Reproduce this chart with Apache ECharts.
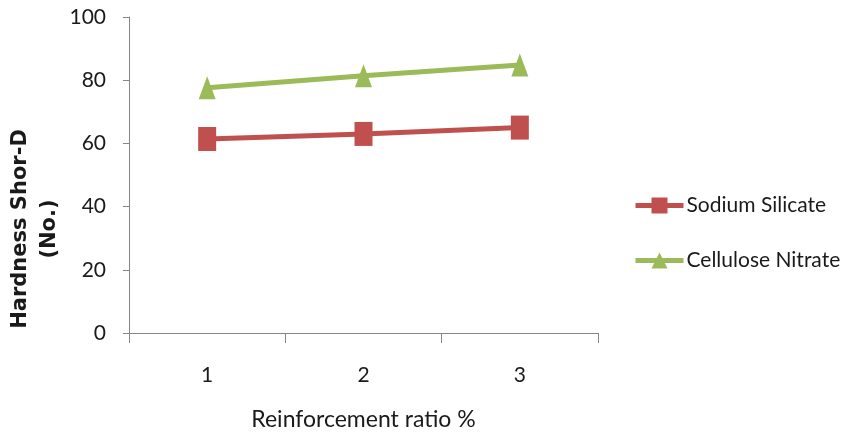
<!DOCTYPE html>
<html>
<head>
<meta charset="utf-8">
<script src="https://cdn.jsdelivr.net/npm/echarts@6/dist/echarts.min.js"></script>
<style>
  html, body { margin: 0; padding: 0; background: #fff; }
  #chart { width: 844px; height: 434px; }
</style>
</head>
<body>
<div id="chart"></div>
<script>
// Reinforcement ratio categories and hardness values per additive
const categories = ['1', '2', '3'];
const sodiumSilicate = [61.4, 63, 65];
const celluloseNitrate = [77.6, 81.4, 84.8];
const yTicks = { min: 0, max: 100, interval: 20 };

const FONT = 'Lato, "Open Sans", sans-serif';
const TEXT = '#1a1a1a';
const AXIS = '#868686';
const chart = echarts.init(document.getElementById('chart'));

chart.setOption({
  animation: false,
  backgroundColor: '#ffffff',
  grid: { left: 129, right: 246, top: 17, bottom: 101, outerBoundsMode: 'none' },
  legend: {
    orient: 'vertical',
    left: 628,
    top: 190,
    itemGap: 34,
    itemWidth: 48,
    itemHeight: 20,
    lineStyle: { width: 5 },
    textStyle: { fontFamily: FONT, fontSize: 21, color: TEXT, padding: [0, 0, 0, -2] },
    data: ['Sodium Silicate', 'Cellulose Nitrate']
  },
  xAxis: {
    type: 'category',
    data: categories,
    boundaryGap: true,
    name: 'Reinforcement ratio %',
    nameLocation: 'middle',
    nameGap: 75,
    nameMoveOverlap: false,
    nameTextStyle: { fontFamily: FONT, fontSize: 23, color: TEXT },
    axisLine: { lineStyle: { color: AXIS, width: 1 } },
    axisTick: { show: true, length: 10, lineStyle: { color: AXIS } },
    axisLabel: { fontFamily: FONT, fontSize: 21, color: TEXT, margin: 32 },
    splitLine: { show: false }
  },
  yAxis: {
    type: 'value',
    min: yTicks.min,
    max: yTicks.max,
    interval: yTicks.interval,
    name: 'Hardness Shor-D\n(No.)',
    nameLocation: 'middle',
    nameRotate: 90,
    nameGap: 65,
    nameMoveOverlap: false,
    nameTextStyle: {
      fontFamily: '"DejaVu Sans", sans-serif', fontSize: 21, fontWeight: 'bold',
      color: TEXT, lineHeight: 29, align: 'center', padding: [0, 108, 0, 0]
    },
    axisLine: { show: true, lineStyle: { color: AXIS, width: 1 } },
    axisTick: { show: true, length: 6, lineStyle: { color: AXIS } },
    axisLabel: { fontFamily: FONT, fontSize: 21, color: TEXT, margin: 23 },
    splitLine: { show: false }
  },
  series: [
    {
      name: 'Sodium Silicate',
      type: 'line',
      data: sodiumSilicate,
      symbol: 'rect',
      symbolSize: [18, 24],
      lineStyle: { color: '#C0504D', width: 5 },
      itemStyle: { color: '#C0504D' }
    },
    {
      name: 'Cellulose Nitrate',
      type: 'line',
      data: celluloseNitrate,
      symbol: 'triangle',
      symbolSize: [17, 23],
      lineStyle: { color: '#9BBB59', width: 5 },
      itemStyle: { color: '#9BBB59' }
    }
  ]
});
</script>
</body>
</html>
